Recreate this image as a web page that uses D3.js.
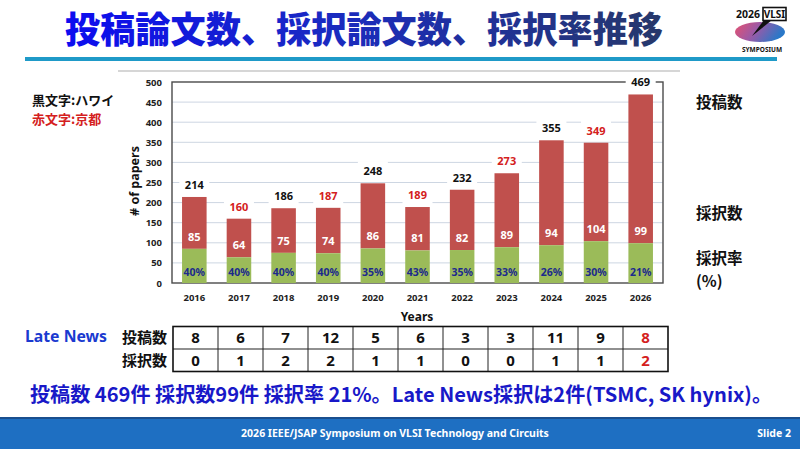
<!DOCTYPE html>
<html>
<head>
<meta charset="utf-8">
<script src="https://cdn.jsdelivr.net/npm/d3@7"></script>
<style>
    body { margin: 0; background: #fff; }
    svg text { font-family: "Noto Sans", "Noto Sans CJK JP", sans-serif; }
    svg text.jp { font-family: "Noto Sans CJK JP", sans-serif; }
</style>
</head>
<body>
<div id="slide"></div>
<script>

// values
const years = ["2016", "2017", "2018", "2019", "2020", "2021", "2022", "2023", "2024", "2025", "2026"];
const submitted = [214, 160, 186, 187, 248, 189, 232, 273, 355, 349, 469];
const accepted = [85, 64, 75, 74, 86, 81, 82, 89, 94, 104, 99];
const acceptRate = [40, 40, 40, 40, 35, 43, 35, 33, 26, 30, 21];
const venue = ["Hawaii", "Kyoto", "Hawaii", "Kyoto", "Hawaii", "Kyoto", "Hawaii", "Kyoto", "Hawaii", "Kyoto", "Hawaii"];
const lateSubmitted = [8, 6, 7, 12, 5, 6, 3, 3, 11, 9, 8];
const lateAccepted = [0, 1, 2, 2, 1, 1, 0, 0, 1, 1, 2];
const yTicks = [0, 50, 100, 150, 200, 250, 300, 350, 400, 450, 500];
const lateRows = ["投稿数", "採択数"];


class PaperChart {

    constructor(parentElement) {
        this.parentElement = parentElement;
        this.rows = years.map((yr, i) => ({
            year: yr, total: submitted[i], acc: accepted[i], rate: acceptRate[i],
            venue: venue[i], lateSub: lateSubmitted[i], lateAcc: lateAccepted[i]
        }));
        this.initVis();
    }

    initVis() {
        let vis = this;

        vis.width = 800;
        vis.height = 449;

        vis.svg = d3.select("#" + vis.parentElement).append("svg")
            .attr("width", vis.width)
            .attr("height", vis.height);

        vis.defs = vis.svg.append("defs");

        // title gradient: bright blue -> slate navy
        let tg = vis.defs.append("linearGradient")
            .attr("id", "title-grad")
            .attr("x1", "0%").attr("x2", "100%").attr("y1", "0%").attr("y2", "0%");
        tg.append("stop").attr("offset", "0%").attr("stop-color", "#0c0cf0");
        tg.append("stop").attr("offset", "45%").attr("stop-color", "#1a2bc0");
        tg.append("stop").attr("offset", "100%").attr("stop-color", "#26386a");

        let lg = vis.defs.append("linearGradient")
            .attr("id", "logo-grad")
            .attr("x1", "0%").attr("x2", "100%").attr("y1", "0%").attr("y2", "30%");
        lg.append("stop").attr("offset", "0%").attr("stop-color", "#e8506e");
        lg.append("stop").attr("offset", "50%").attr("stop-color", "#9a5aa8");
        lg.append("stop").attr("offset", "100%").attr("stop-color", "#2a78c8");

        vis.drawHeader();

        // scales
        vis.x = d3.scaleBand()
            .domain(years)
            .range([172, 663])
            .paddingInner(0.45)
            .paddingOuter(0.225);

        vis.y = d3.scaleLinear()
            .domain([0, 500])
            .range([283, 82]);

        vis.chart = vis.svg.append("g").attr("class", "chart");

        // gridlines
        vis.chart.selectAll(".grid")
            .data(yTicks.filter(d => d > 0 && d < 500))
            .enter().append("line")
            .attr("class", "grid")
            .attr("x1", 172).attr("x2", 663)
            .attr("y1", d => vis.y(d)).attr("y2", d => vis.y(d))
            .attr("stroke", "#cdd6e2")
            .attr("stroke-width", 1);

        // frame
        vis.chart.append("rect")
            .attr("x", 172).attr("y", vis.y(500))
            .attr("width", 663 - 172).attr("height", vis.y(0) - vis.y(500))
            .attr("fill", "none")
            .attr("stroke", "#4a4a4a")
            .attr("stroke-width", 1.4);

        // axes
        vis.yAxis = d3.axisLeft(vis.y).tickValues(yTicks).tickSize(0).tickPadding(10);
        vis.chart.append("g")
            .attr("class", "y-axis")
            .attr("transform", "translate(172,0)")
            .call(vis.yAxis)
            .call(g => g.select(".domain").remove())
            .selectAll("text")
            .style("font-family", "'Noto Sans', sans-serif")
            .style("font-size", "9.5px")
            .style("font-weight", "bold")
            .attr("fill", "#222");

        vis.xAxis = d3.axisBottom(vis.x).tickSize(0).tickPadding(11);
        vis.chart.append("g")
            .attr("class", "x-axis")
            .attr("transform", "translate(0,283)")
            .call(vis.xAxis)
            .call(g => g.select(".domain").remove())
            .selectAll("text")
            .style("font-family", "'Noto Sans', sans-serif")
            .style("font-size", "9.5px")
            .style("font-weight", "bold")
            .attr("fill", "#222");

        vis.chart.append("text")
            .attr("transform", "translate(139,181) rotate(-90)")
            .attr("text-anchor", "middle")
            .attr("font-size", 12.5)
            .attr("font-weight", "bold")
            .attr("fill", "#111")
            .text("# of papers");

        vis.chart.append("text")
            .attr("x", 417).attr("y", 321)
            .attr("text-anchor", "middle")
            .attr("font-size", 12)
            .attr("font-weight", "bold")
            .attr("fill", "#111")
            .text("Years");

        vis.updateVis();
        vis.drawTable();
        vis.drawFooter();
    }

    updateVis() {
        let vis = this;

        let bars = vis.chart.selectAll(".year")
            .data(vis.rows)
            .enter().append("g")
            .attr("class", "year");

        // submitted (red) stacked over accepted (green)
        bars.append("rect")
            .attr("x", d => vis.x(d.year))
            .attr("width", vis.x.bandwidth())
            .attr("y", d => vis.y(d.total))
            .attr("height", d => vis.y(d.acc) - vis.y(d.total))
            .attr("fill", "#c0504d");

        bars.append("rect")
            .attr("x", d => vis.x(d.year))
            .attr("width", vis.x.bandwidth())
            .attr("y", d => vis.y(d.acc))
            .attr("height", d => vis.y(0) - vis.y(d.acc))
            .attr("fill", "#9bbb59");

        let cx = d => vis.x(d.year) + vis.x.bandwidth() / 2;

        // total label with white box
        bars.append("rect")
            .attr("x", d => cx(d) - 15)
            .attr("y", d => vis.y(d.total) - 22)
            .attr("width", 30)
            .attr("height", 19)
            .attr("fill", "#fff");

        bars.append("text")
            .attr("x", cx)
            .attr("y", d => vis.y(d.total) - 8)
            .attr("text-anchor", "middle")
            .attr("font-size", 11)
            .attr("font-weight", "bold")
            .attr("fill", d => d.venue === "Kyoto" ? "#d42020" : "#111")
            .text(d => d.total);

        bars.append("text")
            .attr("x", cx)
            .attr("y", d => vis.y(d.acc) - 8)
            .attr("text-anchor", "middle")
            .attr("font-size", 11)
            .attr("font-weight", "bold")
            .attr("fill", "#fff")
            .text(d => d.acc);

        bars.append("text")
            .attr("x", cx)
            .attr("y", 276)
            .attr("text-anchor", "middle")
            .attr("font-size", 10.5)
            .attr("font-weight", "bold")
            .attr("fill", "#1c2a8c")
            .text(d => d.rate + "%");

        // legend text left + right side labels
        vis.svg.append("text").attr("class", "jp")
            .attr("x", 32).attr("y", 105)
            .attr("font-size", 13).attr("font-weight", "bold").attr("fill", "#111")
            .text("黒文字:ハワイ");
        vis.svg.append("text").attr("class", "jp")
            .attr("x", 32).attr("y", 124)
            .attr("font-size", 13).attr("font-weight", "bold").attr("fill", "#d42020")
            .text("赤文字:京都");

        let side = [["投稿数", 108], ["採択数", 219], ["採択率", 264], ["(%)", 287]];
        vis.svg.selectAll(".side")
            .data(side)
            .enter().append("text")
            .attr("class", "side jp")
            .attr("x", 696).attr("y", d => d[1])
            .attr("font-size", 15.5).attr("font-weight", "bold").attr("fill", "#111")
            .text(d => d[0]);
    }

    drawTable() {
        let vis = this;

        vis.tx = d3.scaleBand().domain(years).range([173, 668]);
        vis.ty = d3.scaleBand().domain(lateRows).range([326.5, 371.5]);

        let t = vis.svg.append("g").attr("class", "late-table");

        // inner lines
        t.selectAll(".vline")
            .data(years.slice(1))
            .enter().append("line")
            .attr("x1", d => vis.tx(d)).attr("x2", d => vis.tx(d))
            .attr("y1", 326.5).attr("y2", 371.5)
            .attr("stroke", "#222").attr("stroke-width", 1);

        t.append("line")
            .attr("x1", 173).attr("x2", 668)
            .attr("y1", vis.ty("採択数")).attr("y2", vis.ty("採択数"))
            .attr("stroke", "#222").attr("stroke-width", 1.2);

        t.append("rect")
            .attr("x", 173).attr("y", 326.5)
            .attr("width", 495).attr("height", 45)
            .attr("fill", "none")
            .attr("stroke", "#111").attr("stroke-width", 1.6);

        let cells = [];
        vis.rows.forEach((d, i) => {
            cells.push({year: d.year, row: "投稿数", v: d.lateSub, last: i === years.length - 1});
            cells.push({year: d.year, row: "採択数", v: d.lateAcc, last: i === years.length - 1});
        });

        t.selectAll(".cell")
            .data(cells)
            .enter().append("text")
            .attr("class", "cell")
            .attr("x", d => vis.tx(d.year) + vis.tx.bandwidth() / 2)
            .attr("y", d => vis.ty(d.row) + vis.ty.bandwidth() / 2 + 5.5)
            .attr("text-anchor", "middle")
            .attr("font-size", 15)
            .attr("font-weight", "bold")
            .attr("fill", d => d.last ? "#d42020" : "#111")
            .text(d => d.v);

        t.selectAll(".rowlab")
            .data(lateRows)
            .enter().append("text")
            .attr("class", "rowlab jp")
            .attr("x", 167)
            .attr("y", d => vis.ty(d) + vis.ty.bandwidth() / 2 + 5.5)
            .attr("text-anchor", "end")
            .attr("font-size", 15)
            .attr("font-weight", "bold")
            .attr("fill", "#111")
            .text(d => d);

        t.append("text")
            .attr("x", 25).attr("y", 342)
            .attr("font-size", 16).attr("font-weight", "bold")
            .attr("fill", "#1a3ad0")
            .attr("textLength", 82).attr("lengthAdjust", "spacingAndGlyphs")
            .text("Late News");
    }

    drawHeader() {
        let vis = this;

        vis.svg.append("text").attr("class", "jp")
            .attr("x", 65).attr("y", 43)
            .attr("font-size", 36).attr("font-weight", 900)
            .attr("fill", "url(#title-grad)")
            .attr("textLength", 598).attr("lengthAdjust", "spacingAndGlyphs")
            .text("投稿論文数、採択論文数、採択率推移");

        vis.svg.append("rect")
            .attr("x", 25).attr("y", 57)
            .attr("width", 752).attr("height", 4)
            .attr("fill", "#1f9ac8");

        vis.svg.append("line")
            .attr("x1", 118).attr("x2", 680)
            .attr("y1", 71).attr("y2", 71)
            .attr("stroke", "#c8c8c8").attr("stroke-width", 1.5);

        // logo
        let logo = vis.svg.append("g").attr("class", "logo");
        logo.append("ellipse")
            .attr("cx", 760).attr("cy", 32).attr("rx", 25).attr("ry", 10)
            .attr("fill", "url(#logo-grad)");
        logo.append("path")
            .attr("d", "M764,20 L752,36 L772,20 Z")
            .attr("fill", "#111");
        logo.append("rect")
            .attr("x", 763).attr("y", 7.5).attr("width", 23).attr("height", 13)
            .attr("fill", "#fff").attr("stroke", "#111").attr("stroke-width", 1.6);
        logo.append("text")
            .attr("x", 774.5).attr("y", 18).attr("text-anchor", "middle")
            .attr("font-size", 10).attr("font-weight", "bold").attr("fill", "#111")
            .text("VLSI");
        logo.append("text")
            .attr("x", 748).attr("y", 18).attr("text-anchor", "middle")
            .attr("font-size", 10.5).attr("font-weight", "bold").attr("fill", "#111")
            .text("2026");
        logo.append("text")
            .attr("x", 762).attr("y", 52).attr("text-anchor", "middle")
            .attr("font-size", 6.5).attr("font-weight", "bold").attr("fill", "#111")
            .text("SYMPOSIUM");
    }

    drawFooter() {
        let vis = this;

        vis.svg.append("text").attr("class", "jp")
            .attr("x", 30).attr("y", 402)
            .attr("font-size", 20).attr("font-weight", "bold")
            .attr("fill", "#1818c8")
            .attr("textLength", 742).attr("lengthAdjust", "spacingAndGlyphs")
            .text("投稿数 469件 採択数99件 採択率 21%。Late News採択は2件(TSMC, SK hynix)。");

        vis.svg.append("rect")
            .attr("x", 0).attr("y", 417).attr("width", 800).attr("height", 32)
            .attr("fill", "#1e6fc2");
        vis.svg.append("rect")
            .attr("x", 0).attr("y", 417).attr("width", 800).attr("height", 2)
            .attr("fill", "#1a4f8e");

        vis.svg.append("text")
            .attr("x", 395).attr("y", 437).attr("text-anchor", "middle")
            .attr("font-size", 10.5).attr("font-weight", "bold").attr("fill", "#fff")
            .text("2026 IEEE/JSAP Symposium on VLSI Technology and Circuits");
        vis.svg.append("text")
            .attr("x", 791).attr("y", 437).attr("text-anchor", "end")
            .attr("font-size", 10.5).attr("font-weight", "bold").attr("fill", "#fff")
            .text("Slide 2");
    }
}

new PaperChart("slide");
</script>
</body>
</html>
